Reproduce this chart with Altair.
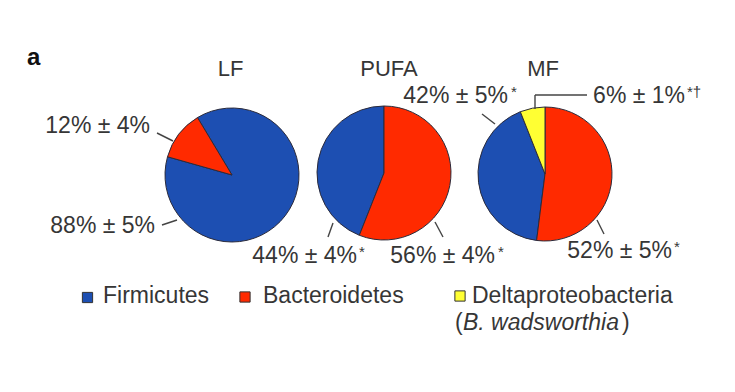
import math
import altair as alt
import pandas as pd

# ---------------- data ----------------
diets = ["LF", "PUFA", "MF"]
phyla = ["Firmicutes", "Bacteroidetes", "Deltaproteobacteria"]
firmicutes = [88, 44, 42]
bacteroidetes = [12, 56, 52]
deltaproteobacteria = [0, 0, 6]
pct_labels = ["12% ± 4%", "88% ± 5%", "44% ± 4%", "56% ± 4%", "42% ± 5%", "6% ± 1%", "52% ± 5%"]
pct_marks = ["", "", "*", "*", "*", "*†", "*"]
legend_labels = ["Firmicutes", "Bacteroidetes", "Deltaproteobacteria"]
legend_note = "B. wadsworthia"
panel_tag = "a"

# ---------------- layout / style ----------------
OFF = 8  # page margin
def px(v):
    return v - OFF

FONT = "Liberation Sans"
TXT = "#363636"
colors = ["#1d4fb2", "#ff2a00", "#ffff33"]
centers = {"LF": (232, 175), "PUFA": (384, 173), "MF": (545, 174)}
start_deg = {"LF": -31, "PUFA": 0, "MF": 0}
slice_order = {
    "LF": ["Firmicutes", "Bacteroidetes", "Deltaproteobacteria"],
    "PUFA": ["Bacteroidetes", "Firmicutes", "Deltaproteobacteria"],
    "MF": ["Bacteroidetes", "Firmicutes", "Deltaproteobacteria"],
}
title_pos = [(230.5, 76), (389, 76), (543, 76)]
label_pos = [(150, 133), (155, 233), (357, 263), (495, 263), (508, 103), (685, 103), (672, 258)]
mark_pos = [(0, 0), (0, 0), (359, 257), (498, 257), (511, 97), (687, 97), (674, 252)]
leaders = [
    (157, 133, 173, 141),
    (162, 225, 177, 220),
    (333, 223, 328, 237),
    (435, 222, 443, 237),
    (482, 114, 495, 124),
    (597, 220, 604, 234),
    (535, 95, 587, 95),
    (535, 95, 535, 109),
]
legend_sq = [(87.5, 297.5), (245, 297), (460, 296)]
legend_txt = [(103, 303), (263, 303), (472, 303)]
note_y = 330

# ---------------- tables ----------------
series = {"Firmicutes": firmicutes, "Bacteroidetes": bacteroidetes,
          "Deltaproteobacteria": deltaproteobacteria}
rows = []
for i, d in enumerate(diets):
    for p in phyla:
        v = series[p][i]
        if v > 0:
            rows.append({"diet": d, "phylum": p, "value": v,
                         "order": slice_order[d].index(p)})
df = pd.DataFrame(rows)

color_scale = alt.Scale(domain=phyla, range=colors)

W, H = 715, 370

pies = []
for d in diets:
    cx, cy = centers[d]
    a0 = math.radians(start_deg[d])
    pies.append(
        alt.Chart(df)
        .transform_filter(alt.datum.diet == d)
        .mark_arc(outerRadius=67, stroke="#2b2b3b", strokeWidth=1)
        .encode(
            theta=alt.Theta("value:Q", stack=True,
                            scale=alt.Scale(domain=[0, 100], range=[a0, a0 + 2 * math.pi])),
            order=alt.Order("order:Q"),
            color=alt.Color("phylum:N", scale=color_scale, legend=None),
            x=alt.value(px(cx)),
            y=alt.value(px(cy)),
        )
    )

def xy_enc(**kw):
    return dict(
        x=alt.X("x:Q", scale=None, axis=None),
        y=alt.Y("y:Q", scale=None, axis=None),
        **kw,
    )

titles_df = pd.DataFrame({"text": diets,
                          "x": [px(p[0]) for p in title_pos],
                          "y": [px(p[1]) for p in title_pos]})
titles = alt.Chart(titles_df).mark_text(font=FONT, fontSize=22, align="center",
                                        baseline="alphabetic", color=TXT).encode(**xy_enc(text="text:N"))

tag = alt.Chart(pd.DataFrame({"text": [panel_tag], "x": [px(27)], "y": [px(65)]})).mark_text(
    font=FONT, fontSize=24, fontWeight="bold", align="left", baseline="alphabetic", color="#111111"
).encode(**xy_enc(text="text:N"))

lab_df = pd.DataFrame({"text": pct_labels,
                       "x": [px(p[0]) for p in label_pos],
                       "y": [px(p[1]) for p in label_pos]})
labels = alt.Chart(lab_df).mark_text(font=FONT, fontSize=23, align="right",
                                     baseline="alphabetic", color=TXT).encode(**xy_enc(text="text:N"))

sup_df = pd.DataFrame({"text": pct_marks,
                       "x": [px(p[0]) for p in mark_pos],
                       "y": [px(p[1]) for p in mark_pos]})
sup_df = sup_df[sup_df["text"] != ""]
sups = alt.Chart(sup_df).mark_text(font=FONT, fontSize=15, align="left",
                                   baseline="alphabetic", color=TXT).encode(**xy_enc(text="text:N"))

lead_df = pd.DataFrame({"x": [px(l[0]) for l in leaders], "y": [px(l[1]) for l in leaders],
                        "x2": [px(l[2]) for l in leaders], "y2": [px(l[3]) for l in leaders]})
lead = alt.Chart(lead_df).mark_rule(color="#444444", strokeWidth=1.4).encode(
    x=alt.X("x:Q", scale=None, axis=None), y=alt.Y("y:Q", scale=None, axis=None),
    x2="x2:Q", y2="y2:Q")

sq_df = pd.DataFrame({"phylum": legend_labels,
                      "x": [px(p[0]) for p in legend_sq],
                      "y": [px(p[1]) for p in legend_sq]})
squares = alt.Chart(sq_df).mark_square(size=105, stroke="#333333", strokeWidth=1, opacity=1).encode(
    **xy_enc(color=alt.Color("phylum:N", scale=color_scale, legend=None)))

lt_df = pd.DataFrame({"text": legend_labels,
                      "x": [px(p[0]) for p in legend_txt],
                      "y": [px(p[1]) for p in legend_txt]})
leg_text = alt.Chart(lt_df).mark_text(font=FONT, fontSize=23, align="left",
                                      baseline="alphabetic", color=TXT).encode(**xy_enc(text="text:N"))

paren_df = pd.DataFrame({"text": ["(", ")"], "x": [px(455), px(622)], "y": [px(note_y), px(note_y)]})
parens = alt.Chart(paren_df).mark_text(font=FONT, fontSize=23, align="left",
                                       baseline="alphabetic", color=TXT).encode(**xy_enc(text="text:N"))
ital = alt.Chart(pd.DataFrame({"text": [legend_note], "x": [px(463)], "y": [px(note_y)]})).mark_text(
    font=FONT, fontSize=23, fontStyle="italic", align="left", baseline="alphabetic", color=TXT
).encode(**xy_enc(text="text:N"))

chart = alt.layer(
    *pies, lead, titles, tag, labels, sups, squares, leg_text, parens, ital
).resolve_scale(theta="independent").properties(
    width=W, height=H,
    autosize=alt.AutoSizeParams(type="none"),
    padding=0,
    background="white",
).configure_view(stroke=None)

chart.save("out.html", embed_options={"renderer": "svg", "actions": False})
